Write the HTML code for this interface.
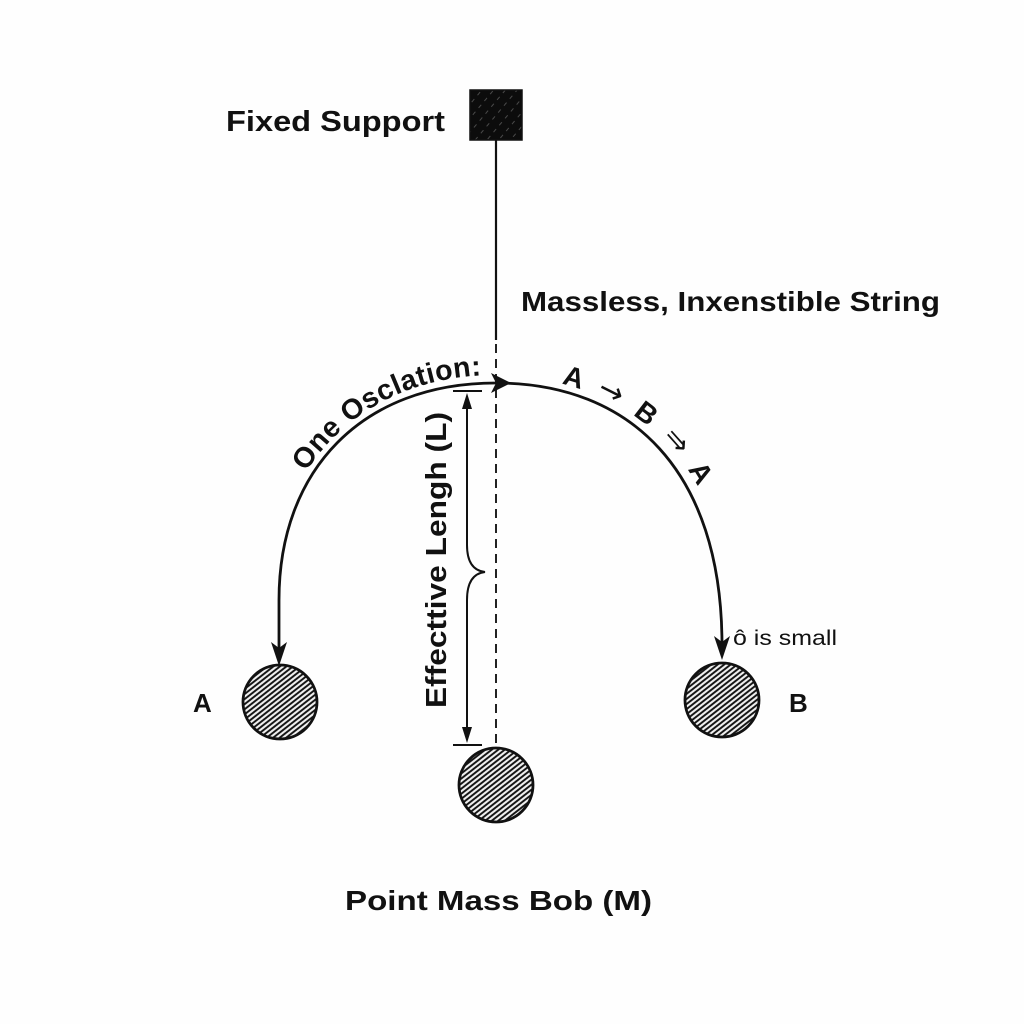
<!DOCTYPE html>
<html>
<head>
<meta charset="utf-8">
<style>
  html,body{margin:0;padding:0;background:#fff;}
  svg{display:block;}
  text{font-family:"Liberation Sans","DejaVu Sans",sans-serif;fill:#111;}
  .b{font-weight:bold;}
</style>
</head>
<body>
<svg width="1024" height="1024" viewBox="0 0 1024 1024" xmlns="http://www.w3.org/2000/svg">
  <defs>
    <pattern id="hatch" width="4" height="4" patternUnits="userSpaceOnUse" patternTransform="rotate(-38)">
      <rect width="4" height="4" fill="#efefef"/>
      <line x1="0" y1="1.5" x2="4" y2="1.5" stroke="#111" stroke-width="1.9"/>
    </pattern>
    <pattern id="shatch" width="9" height="9" patternUnits="userSpaceOnUse" patternTransform="rotate(-50)">
      <rect width="9" height="9" fill="#0c0c0c"/>
      <line x1="0" y1="4" x2="4" y2="4" stroke="#888" stroke-width="0.5"/>
    </pattern>
    <path id="ltp" d="M271 648 L271 600 C271 470 360 375 496 375" fill="none"/>
    <path id="rtp" d="M496 376 C635 376 735 470 735 645" fill="none"/>
  </defs>
  <rect width="1024" height="1024" fill="#fefefe"/>

  <!-- Fixed support -->
  <rect x="470" y="90" width="52" height="50" fill="url(#shatch)" stroke="#111" stroke-width="1.5"/>
  <text class="b" x="226" y="131" font-size="29" textLength="219" lengthAdjust="spacingAndGlyphs">Fixed Support</text>

  <!-- string -->
  <line x1="496" y1="140" x2="496" y2="340" stroke="#111" stroke-width="2.2"/>
  <line x1="496" y1="344" x2="496" y2="748" stroke="#222" stroke-width="2" stroke-dasharray="9 6"/>

  <text class="b" x="521" y="311" font-size="28" textLength="419" lengthAdjust="spacingAndGlyphs">Massless, Inxenstible String</text>

  <!-- oscillation arc -->
  <path d="M279 650 L279 600 C279 470 362 383 496 383 C630 383 722 470 722 645" fill="none" stroke="#111" stroke-width="2.8"/>
  <!-- top arrowhead -->
  <path d="M511 383 L491 373 L496 383 L491 393 Z" fill="#111"/>
  <!-- left arrowhead -->
  <path d="M279 666 L271 642 L279 648 L287 642 Z" fill="#111"/>
  <!-- right arrowhead -->
  <path d="M722 660 L714 636 L722 642 L730 636 Z" fill="#111"/>

  <text class="b" font-size="28.5" letter-spacing="0.4"><textPath href="#ltp" startOffset="96.5%" text-anchor="end">One Osclation:</textPath></text>
  <text class="b" font-size="28" letter-spacing="4.5"><textPath href="#rtp" startOffset="66">A <tspan font-family="DejaVu Sans" font-weight="normal" font-size="30">→</tspan> B <tspan font-family="DejaVu Sans" font-weight="normal" font-size="30">⇒</tspan> A</textPath></text>

  <!-- dimension line -->
  <line x1="453" y1="391" x2="482" y2="391" stroke="#111" stroke-width="2"/>
  <line x1="453" y1="745" x2="482" y2="745" stroke="#111" stroke-width="2"/>
  <path d="M467 400 L467 545 Q467 570 485 572 Q467 574 467 600 L467 736" fill="none" stroke="#111" stroke-width="2"/>
  <path d="M467 393 L462 409 L472 409 Z" fill="#111"/>
  <path d="M467 743 L462 727 L472 727 Z" fill="#111"/>
  <text class="b" font-size="29" transform="translate(446,708) rotate(-90)" x="0" y="0" textLength="296" lengthAdjust="spacingAndGlyphs">Effecttive Lengh (L)</text>

  <!-- bobs -->
  <circle cx="280" cy="702" r="37" fill="url(#hatch)" stroke="#111" stroke-width="2.8"/>
  <circle cx="722" cy="700" r="37" fill="url(#hatch)" stroke="#111" stroke-width="2.8"/>
  <circle cx="496" cy="785" r="37" fill="url(#hatch)" stroke="#111" stroke-width="2.8"/>

  <text class="b" x="193" y="712" font-size="26">A</text>
  <text class="b" x="789" y="712" font-size="26">B</text>
  <text x="733" y="645" font-size="21" textLength="104" lengthAdjust="spacingAndGlyphs">ô is small</text>

  <text class="b" x="345" y="910" font-size="28" textLength="307" lengthAdjust="spacingAndGlyphs">Point Mass Bob (M)</text>
</svg>
</body>
</html>
